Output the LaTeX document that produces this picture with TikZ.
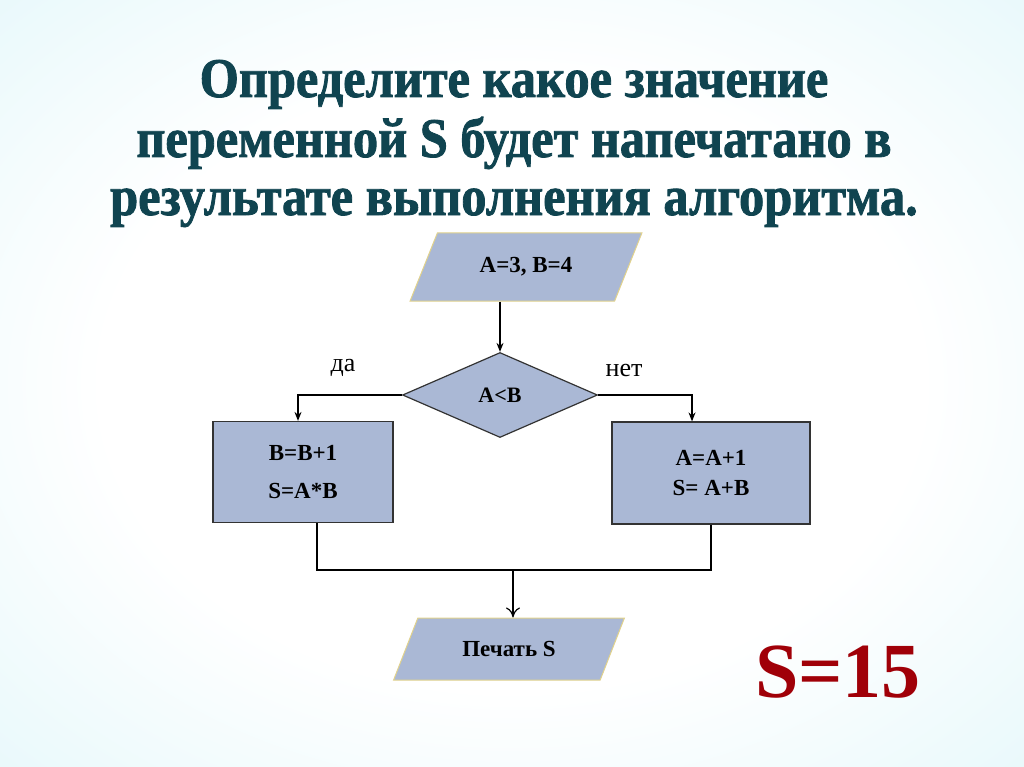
\documentclass[tikz,border=0pt]{standalone}
\usepackage{fontspec}
\setmainfont{Liberation Serif}
\newfontfamily\titlefont[FakeStretch=0.9,FakeBold=1.5]{Liberation Serif}
\usetikzlibrary{shapes.geometric,arrows.meta}
\definecolor{bgcyan}{RGB}{192,236,243}
\definecolor{bgmid}{RGB}{220,245,249}
\definecolor{blockfill}{RGB}{170,184,213}
\definecolor{ioborder}{RGB}{225,210,140}
\definecolor{titleteal}{RGB}{16,68,80}
\definecolor{answerred}{RGB}{160,0,8}
\pgfdeclareradialshading{slidebg}{\pgfpoint{0bp}{0bp}}{color(0bp)=(white); color(20bp)=(white); color(45bp)=(bgmid); color(72bp)=(bgcyan)}
\begin{document}
\begin{tikzpicture}[x=1pt,y=-1pt,>={Stealth[length=9pt,width=7pt]},line width=1.2pt,
  io/.style={trapezium,trapezium left angle=59,trapezium right angle=121,trapezium stretches=true,
    draw=ioborder,fill=blockfill,line width=1pt,font=\fontsize{23}{26}\selectfont\bfseries},
  dec/.style={diamond,draw=black!80,fill=blockfill,line width=1.2pt,inner sep=0pt,
    minimum width=195,minimum height=85,font=\fontsize{22}{26}\selectfont\bfseries},
  proc/.style={rectangle,draw=black!80,fill=blockfill,line width=1.2pt,align=center,
    font=\fontsize{23}{26}\selectfont\bfseries},
  lbl/.style={font=\fontsize{26}{28}\selectfont},
  ttl/.style={anchor=base,text=titleteal,font=\titlefont\fontsize{56}{60}\selectfont\bfseries}]
\useasboundingbox[shading=slidebg] (0,0) rectangle (1024,767);
\node[ttl] (title1) at (514,97) {Определите какое значение};
\node[ttl] (title2) at (514,157) {переменной S будет напечатано в};
\node[ttl] (title3) at (514,215) {результате выполнения алгоритма.};
\node[io,minimum width=232,minimum height=68] (in) at (526,267) {A=3, B=4};
\node[dec] (cond) at (500,395) {A<B};
\node[proc,minimum width=180,minimum height=101] (procL) at (303,472) {B=B+1\\[12pt]S=A*B};
\node[proc,minimum width=198,minimum height=102] (procR) at (711,473) {A=A+1\\[4pt]S= A+B};
\node[io,minimum width=231,minimum height=62] (out) at (509,649) {Печать S};
\node[lbl] (yes) at (343,368) {да};
\node[lbl] (no) at (624,370) {нет};
\node[font=\fontsize{78}{80}\selectfont\bfseries,text=answerred] (answer) at (838,672) {S=15};
\coordinate (join) at (513,570);
\draw[->] (in.south -| cond.north) -- (cond.north);
\draw[->] (cond.west) -| ([xshift=-5]procL.north);
\draw[->] (cond.east) -| ([xshift=-19]procR.north);
\draw ([xshift=14]procL.south) |- (join);
\draw (procR.south) |- (join);
\draw[-{To[length=10pt,width=14pt]}] (join) -- (join |- out.north);
\end{tikzpicture}
\end{document}
